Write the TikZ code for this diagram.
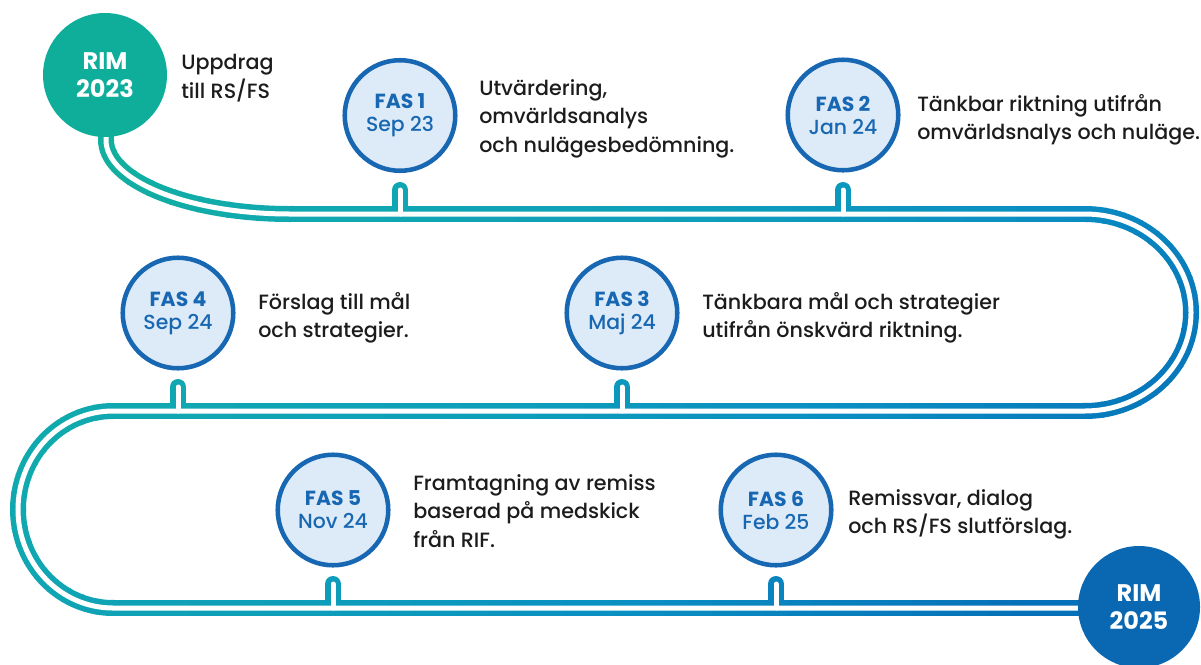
\documentclass[tikz,border=0pt]{standalone}
\usepackage{fontspec}
\setmainfont{Poppins}
\IfFontExistsTF{Poppins Medium}{\newfontfamily\medfamily{Poppins Medium}}{\newfontfamily\medfamily{Poppins}}

\definecolor{roadA}{HTML}{12B09E}
\definecolor{roadB}{HTML}{10A8B0}
\definecolor{roadC}{HTML}{0E9EBA}
\definecolor{roadD}{HTML}{0A8EC2}
\definecolor{roadE}{HTML}{0670B8}
\definecolor{rimteal}{HTML}{0FAE9B}
\definecolor{rimblue}{HTML}{0A67B1}
\definecolor{fasblue}{HTML}{1767B2}
\definecolor{fasfill}{HTML}{DDEBF8}
\definecolor{desctext}{HTML}{1C1C1C}

\newcommand{\descfont}{\fontsize{15.5pt}{21.4pt}\medfamily}
\newcommand{\fasfont}{\fontsize{15.3pt}{17.25pt}\medfamily}
\newcommand{\rimfont}{\fontsize{18pt}{21.5pt}\selectfont\bfseries}
\newcommand{\fastitle}[1]{{\rmfamily\bfseries #1}}

% colour of the road at s = x + (pixels down)
\newcommand{\setroadcol}[1]{%
  \pgfmathsetmacro\rcs{#1}%
  \ifdim\rcs pt<520pt
    \pgfmathsetmacro\rcq{max(0,(\rcs-250)/2.7)}\colorlet{rc}{roadB!\rcq!roadA}%
  \else\ifdim\rcs pt<900pt
    \pgfmathsetmacro\rcq{(\rcs-520)/3.8}\colorlet{rc}{roadC!\rcq!roadB}%
  \else\ifdim\rcs pt<1250pt
    \pgfmathsetmacro\rcq{(\rcs-900)/3.5}\colorlet{rc}{roadD!\rcq!roadC}%
  \else
    \pgfmathsetmacro\rcq{min(100,(\rcs-1250)/4)}\colorlet{rc}{roadE!\rcq!roadD}%
  \fi\fi\fi}

\newcommand{\roadline}{(106,-100) -- (106,-140) arc[start angle=180,end angle=270,x radius=184,y radius=74]
  -- (1085,-214) arc[start angle=90,end angle=-90,x radius=106,y radius=98.5]
  -- (113,-411) arc[start angle=90,end angle=270,x radius=95,y radius=98.5] -- (1139,-608)}

\tikzset{
  roadwall/.style={rc,line width=12pt},
  roadgap/.style={white,line width=3.75pt},
  rimnode/.style={circle,inner sep=0pt,align=center,text=white,font=\rimfont},
  fasnode/.style={circle,draw=fasblue,fill=fasfill,line width=3.4pt,minimum size=82.9pt,
    inner sep=0pt,align=center,text=fasblue,font=\fasfont},
  desc/.style={anchor=north west,align=left,inner sep=0pt,text=desctext,font=\descfont}
}

\begin{document}
\begin{tikzpicture}[x=0.75pt,y=0.75pt]
\useasboundingbox (0,0) rectangle (1201,-664);
\clip (0,0) rectangle (1201,-664);

% road, piece by piece
\setroadcol{240}
\draw[roadwall] (106,-100) -- (106,-141);
\foreach \a in {180,190,...,260}{
  \pgfmathsetmacro\px{290+184*cos(\a+5)}
  \pgfmathsetmacro\py{-140+74*sin(\a+5)}
  \setroadcol{\px-(\py)}
  \draw[roadwall] (290,-140) ++(\a:184 and 74) arc[start angle=\a,end angle=\a+11,x radius=184,y radius=74];
}
\foreach \x in {290,315,...,1065}{
  \setroadcol{\x+12.5+214}
  \draw[roadwall] (\x,-214) -- ++(27,0);
}
\foreach \a in {90,80,...,-80}{
  \pgfmathsetmacro\px{1085+106*cos(\a-5)}
  \pgfmathsetmacro\py{-312.5+98.5*sin(\a-5)}
  \setroadcol{\px-(\py)}
  \draw[roadwall] (1085,-312.5) ++(\a:106 and 98.5) arc[start angle=\a,end angle=\a-11,x radius=106,y radius=98.5];
}
\foreach \x in {1085,1060,...,135}{
  \setroadcol{\x-12.5+411}
  \draw[roadwall] (\x,-411) -- ++(-27,0);
}
\foreach \a in {90,100,...,260}{
  \pgfmathsetmacro\px{113+95*cos(\a+5)}
  \pgfmathsetmacro\py{-509.5+98.5*sin(\a+5)}
  \setroadcol{\px-(\py)}
  \draw[roadwall] (113,-509.5) ++(\a:95 and 98.5) arc[start angle=\a,end angle=\a+11,x radius=95,y radius=98.5];
}
\foreach \x in {113,138,...,1113}{
  \setroadcol{\x+12.5+608}
  \draw[roadwall] (\x,-608) -- ++(27,0);
}
\foreach \x/\y in {400/-214,843/-214,178/-411,622/-411,333/-608,776/-608}{
  \setroadcol{\x-(\y)}
  \draw[roadwall,line cap=round] (\x,\y) -- ++(0,24);
}
\draw[roadgap] \roadline;
\foreach \x/\y in {400/-214,843/-214,178/-411,622/-411,333/-608,776/-608}
  \draw[roadgap,line cap=round] (\x,\y) -- ++(0,24);

\node[rimnode,fill=rimteal,minimum size=93pt] (rim23) at (105,-75) {RIM\\2023};
\node[desc] (uppdrag) at (181,-54) {Uppdrag\\till RS/FS};

\node[fasnode] (fas1) at (400,-115.5) {\fastitle{FAS 1}\\Sep 23};
\node[desc] (fas1txt) at (479,-79) {Utvärdering,\\omvärldsanalys\\och nulägesbedömning.};

\node[fasnode] (fas2) at (843,-115) {\fastitle{FAS 2}\\Jan 24};
\node[desc] (fas2txt) at (917,-94) {Tänkbar riktning utifrån\\omvärldsnalys och nuläge.};

\node[fasnode] (fas4) at (178,-313) {\fastitle{FAS 4}\\Sep 24};
\node[desc] (fas4txt) at (258,-292) {Förslag till mål\\och strategier.};

\node[fasnode] (fas3) at (622,-313) {\fastitle{FAS 3}\\Maj 24};
\node[desc] (fas3txt) at (702,-292) {Tänkbara mål och strategier\\utifrån önskvärd riktning.};

\node[fasnode] (fas5) at (333,-510) {\fastitle{FAS 5}\\Nov 24};
\node[desc] (fas5txt) at (413,-474) {Framtagning av remiss\\baserad på medskick\\från RIF.};

\node[fasnode] (fas6) at (776,-510) {\fastitle{FAS 6}\\Feb 25};
\node[desc] (fas6txt) at (848,-489) {Remissvar, dialog\\och RS/FS slutförslag.};

\node[rimnode,fill=rimblue,minimum size=91.5pt] (rim25) at (1139,-607) {RIM\\2025};
\end{tikzpicture}
\end{document}
